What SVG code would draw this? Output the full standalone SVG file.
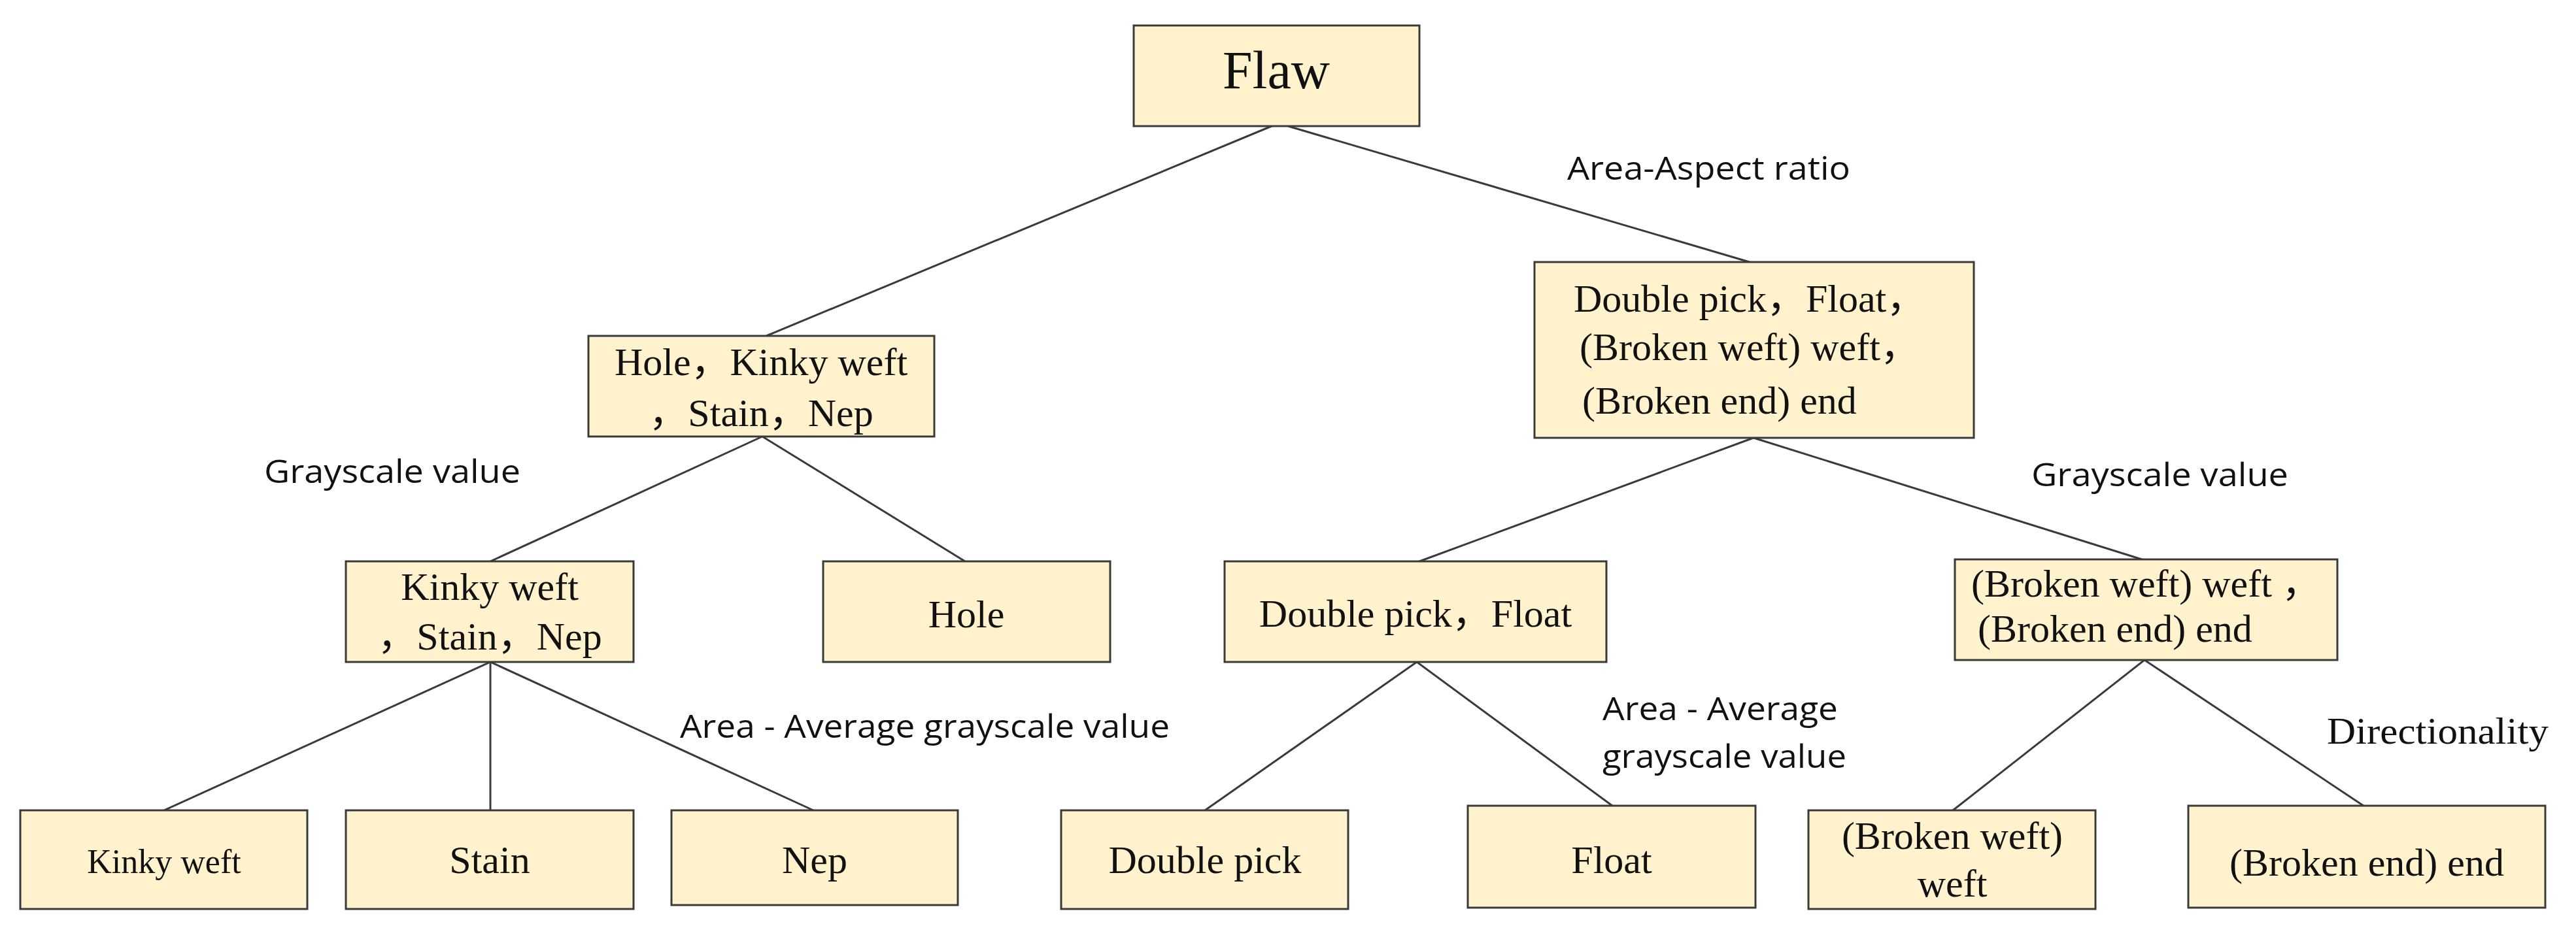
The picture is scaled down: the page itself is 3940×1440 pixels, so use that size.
<svg xmlns="http://www.w3.org/2000/svg" width="3940" height="1440" viewBox="0 0 3940 1440">
<style>
.b{fill:#FFF2CC;stroke:#3a3a3a;stroke-width:3}
.t{font-family:"Liberation Serif","Noto Sans CJK SC",serif;font-size:60px;fill:#111;text-anchor:middle}
.s{text-anchor:start}
.l{font-family:"Open Sans","Liberation Sans",sans-serif;font-size:50px;fill:#111}
#edges line{stroke:#3a3a3a;stroke-width:3}
</style>
<rect width="3940" height="1440" fill="#fff"/>
<g id="edges">
<line x1="1945" y1="193" x2="1172" y2="514"/>
<line x1="1970" y1="193" x2="2676" y2="401"/>
<line x1="1166" y1="668" x2="750" y2="859"/>
<line x1="1166" y1="668" x2="1476" y2="859"/>
<line x1="750" y1="1013" x2="251" y2="1240"/>
<line x1="750" y1="1013" x2="750" y2="1240"/>
<line x1="750" y1="1013" x2="1244" y2="1240"/>
<line x1="2682" y1="670" x2="2171" y2="859"/>
<line x1="2682" y1="670" x2="3276" y2="856"/>
<line x1="2167" y1="1013" x2="1843" y2="1240"/>
<line x1="2167" y1="1013" x2="2466" y2="1233"/>
<line x1="3280" y1="1010" x2="2987" y2="1240"/>
<line x1="3280" y1="1010" x2="3615" y2="1233"/>
</g>
<g id="labels" class="l">
<text x="2397" y="275" textLength="433" lengthAdjust="spacingAndGlyphs">Area-Aspect ratio</text>
<text x="404" y="739" textLength="392" lengthAdjust="spacingAndGlyphs">Grayscale value</text>
<text x="1040" y="1129" textLength="749" lengthAdjust="spacingAndGlyphs">Area - Average grayscale value</text>
<text x="3107" y="744" textLength="393" lengthAdjust="spacingAndGlyphs">Grayscale value</text>
<text x="2451" y="1102" textLength="360" lengthAdjust="spacingAndGlyphs">Area - Average</text>
<text x="2451" y="1175" textLength="373" lengthAdjust="spacingAndGlyphs">grayscale value</text>
<text x="3559" y="1138" textLength="339" lengthAdjust="spacingAndGlyphs" style="font-family:'Liberation Serif',serif;font-size:56px">Directionality</text>
</g>
<g id="flaw"><rect class="b" x="1734" y="39" width="437" height="154"/><text class="t" x="1952" y="135" style="font-size:82px">Flaw</text></g>
<g id="hkstn"><rect class="b" x="900" y="514" width="529" height="154"/><text class="t" x="1164" y="574">Hole，Kinky weft</text><text class="t" x="1164" y="652">，Stain，Nep</text></g>
<g id="ksn"><rect class="b" x="529" y="859" width="440" height="154"/><text class="t" x="749" y="918">Kinky weft</text><text class="t" x="749" y="994">，Stain，Nep</text></g>
<g id="hole"><rect class="b" x="1259" y="859" width="439" height="154"/><text class="t" x="1478" y="960">Hole</text></g>
<g id="kinky"><rect class="b" x="31" y="1240" width="439" height="151"/><text class="t" x="251" y="1336" style="font-size:52px">Kinky weft</text></g>
<g id="stain"><rect class="b" x="529" y="1240" width="440" height="151"/><text class="t" x="749" y="1336">Stain</text></g>
<g id="nep"><rect class="b" x="1027" y="1240" width="438" height="145"/><text class="t" x="1246" y="1336">Nep</text></g>
<g id="dpfbb"><rect class="b" x="2347" y="401" width="672" height="269"/><text class="t s" x="2407" y="477">Double pick，Float，</text><text class="t s" x="2416" y="551">(Broken weft) weft，</text><text class="t s" x="2420" y="633">(Broken end) end</text></g>
<g id="dpf"><rect class="b" x="1873" y="859" width="584" height="154"/><text class="t" x="2165" y="959">Double pick，Float</text></g>
<g id="bwbe"><rect class="b" x="2990" y="856" width="585" height="154"/><text class="t s" x="3015" y="913">(Broken weft) weft ，</text><text class="t s" x="3025" y="982">(Broken end) end</text></g>
<g id="dp"><rect class="b" x="1623" y="1240" width="439" height="151"/><text class="t" x="1843" y="1336">Double pick</text></g>
<g id="float"><rect class="b" x="2245" y="1233" width="440" height="156"/><text class="t" x="2465" y="1336">Float</text></g>
<g id="bw"><rect class="b" x="2766" y="1240" width="439" height="151"/><text class="t" x="2986" y="1299">(Broken weft)</text><text class="t" x="2986" y="1372">weft</text></g>
<g id="be"><rect class="b" x="3347" y="1233" width="546" height="156"/><text class="t" x="3620" y="1340">(Broken end) end</text></g>
</svg>
